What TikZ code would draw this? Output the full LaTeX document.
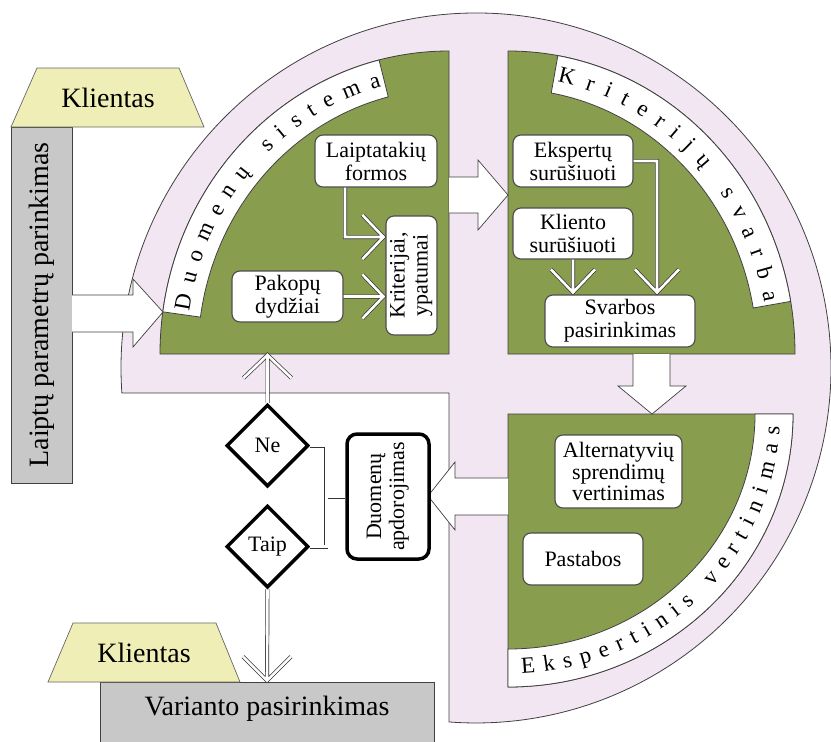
\documentclass[tikz,border=0pt]{standalone}
\usepackage{fontspec}
\setmainfont{Liberation Serif}
\usepackage{graphicx}
\usetikzlibrary{shapes.geometric,decorations.text,calc}
\definecolor{pinkbg}{RGB}{241,230,241}
\definecolor{olivegr}{RGB}{137,157,79}
\definecolor{klient}{RGB}{238,238,182}
\definecolor{grayb}{RGB}{200,200,200}
\newcommand\bigfont{\fontsize{28}{30}\selectfont}
\newcommand\boxfont{\fontsize{22}{23}\selectfont}
\newcommand\bandfont{\fontsize{23}{23}\selectfont}
\begin{document}
\begin{tikzpicture}[x=1pt,y=-1pt,
  outl/.style={draw=black!75, line width=0.8pt},
  box/.style={draw=black!70, line width=1.1pt, fill=white, rounded corners=8pt, align=center, inner sep=0pt, font=\boxfont},
  thickbox/.style={draw=black, line width=3.5pt, fill=white, rounded corners=10pt, inner sep=0pt, font=\boxfont},
  dia/.style={diamond, draw=black, line width=3.5pt, fill=white, inner sep=0pt, minimum width=82pt, minimum height=82pt, font=\boxfont},
  dbl/.style={draw=black!80, double=white, double distance=2.6pt, line width=0.7pt, line join=miter},
  blockarrow/.style={fill=white, draw=black!75, line width=0.7pt, line join=miter},
  bandtext/.style={decorate, decoration={text along path, text align={fit to path, left indent=4pt, right indent=4pt}}},
]
\useasboundingbox (0,0) rectangle (831,742);

% pink disc with the lower-left quadrant removed
\path[fill=pinkbg, outl] (449,393) -- (121.9,393) arc[start angle=175.96, end angle=454.36, radius=355] -- cycle;

% green quadrants
\path[fill=olivegr, outl] (449,354) -- (160,354) arc[start angle=180, end angle=270, x radius=289, y radius=303] -- cycle;
\path[fill=olivegr, outl] (508,354) -- (508,51) arc[start angle=270, end angle=360, x radius=287, y radius=303] -- cycle;
\path[fill=olivegr, outl] (508,414) -- (793,414) arc[start angle=0, end angle=90, x radius=285, y radius=273] -- cycle;

% white bands
\path[fill=white, outl] ([shift={(188:289 and 303)}]449,354) arc[start angle=188, end angle=256, x radius=289, y radius=303]
  -- ([shift={(256:251 and 265)}]449,354) arc[start angle=256, end angle=188, x radius=251, y radius=265] -- cycle;
\path[fill=white, outl] ([shift={(280:287 and 303)}]508,354) arc[start angle=280, end angle=350, x radius=287, y radius=303]
  -- ([shift={(350:249 and 265)}]508,354) arc[start angle=350, end angle=280, x radius=249, y radius=265] -- cycle;
\path[fill=white, outl] ([shift={(0:285 and 273)}]508,414) arc[start angle=0, end angle=90, x radius=285, y radius=273]
  -- ([shift={(90:247 and 235)}]508,414) arc[start angle=90, end angle=0, x radius=247, y radius=235] -- cycle;

% band texts
\path[bandtext, decoration={text={|\bandfont|Duomenų sistema}}]
  ([shift={(188:263 and 277)}]449,354) arc[start angle=188, end angle=256, x radius=263, y radius=277];
\path[bandtext, decoration={text={|\bandfont|Kriterijų svarba}}]
  ([shift={(280:261 and 277)}]508,354) arc[start angle=280, end angle=350, x radius=261, y radius=277];
\path[bandtext, decoration={text={|\bandfont|Ekspertinis vertinimas}}]
  ([shift={(88:272 and 260)}]508,414) arc[start angle=88, end angle=2, x radius=272, y radius=260];

% left column and client shapes
\node[draw=black!75, line width=0.8pt, fill=grayb, minimum width=61pt, minimum height=356pt, inner sep=0pt] (lp) at (41.5,305)
  {\rotatebox{90}{\bigfont Laiptų parametrų parinkimas}};
\path[fill=klient, draw=black!60, line width=0.7pt] (11,127) -- (204,127) -- (179,68) -- (37,68) -- cycle;
\node[font=\bigfont] (kl1) at (108,98) {Klientas};

\node[draw=black!75, line width=0.8pt, fill=grayb, minimum width=334pt, minimum height=70pt, inner sep=0pt] (var) at (267,717) {};
\node[font=\bigfont] (vart) at (267,709) {Varianto pasirinkimas};
\path[fill=klient, draw=black!60, line width=0.7pt] (48,682) -- (240,682) -- (216,623) -- (73,623) -- cycle;
\node[font=\bigfont] (kl2) at (144,653) {Klientas};

% block arrows
\path[blockarrow] (72,295) -- (133,295) -- (133,279) -- (163,312) -- (133,347) -- (133,332) -- (72,332);
\path[blockarrow] (449,177) -- (478,177) -- (478,160) -- (508,195) -- (478,230) -- (478,213) -- (449,213);
\path[blockarrow] (633,354) -- (633,386) -- (618,386) -- (652,414) -- (686,386) -- (670,386) -- (670,354);
\path[blockarrow] (508,478) -- (455,478) -- (455,462) -- (428,496) -- (455,530) -- (455,515) -- (508,515);

% boxes
\node[box, minimum width=122pt, minimum height=52pt] (lf) at (376,161) {Laiptatakių\\formos};
\node[box, minimum width=111pt, minimum height=51pt] (pk) at (287.5,296.5) {Pakopų\\dydžiai};
\node[box, minimum width=51pt, minimum height=119pt] (kr) at (411.5,275.5)
  {\rotatebox{90}{\begin{tabular}{@{}c@{}}Kriterijai,\\ypatumai\end{tabular}}};
\node[box, minimum width=120pt, minimum height=52pt] (ek) at (573,161) {Ekspertų\\surūšiuoti};
\node[box, minimum width=120pt, minimum height=51pt] (kli) at (573,233.5) {Kliento\\surūšiuoti};
\node[box, minimum width=150pt, minimum height=52pt] (sv) at (620,321) {Svarbos\\pasirinkimas};
\node[box, minimum width=127pt, minimum height=73pt, font=\fontsize{22}{21.5}\selectfont] (alt) at (618.5,471.5) {Alternatyvių\\sprendimų\\vertinimas};
\node[box, minimum width=120pt, minimum height=52pt] (pa) at (583,559) {Pastabos};
\node[thickbox, minimum width=82pt, minimum height=125pt] (da) at (388,496.5)
  {\rotatebox{90}{\begin{tabular}{@{}c@{}}Duomenų\\apdorojimas\end{tabular}}};
\node[dia] (ne) at (267.5,445.5) {Ne};
\node[dia] (taip) at (267.5,546.5) {Taip};
\coordinate (tlb) at (267.5,355);
\coordinate (bj) at ($(da.west)+(-19,0)$);

% connectors
\draw[dbl] ([xshift=-31pt]lf.south) |- ($(kr.west)+(-2,-38.5)$) coordinate (t1) ++(-21,-22) -- (t1) -- ++(-21,22);
\draw[dbl] (pk.east) -- ($(pk.east -| kr.west)+(-2,0)$) coordinate (t2) ++(-21,-22) -- (t2) -- ++(-21,22);
\draw[dbl] (ek.east) -| ($(sv.north)+(37,-2)$) coordinate (t3) ++(-22,-23) -- (t3) -- ++(22,-23);
\draw[dbl] (kli.south) -- ($(kli.south |- sv.north)+(0,-2)$) coordinate (t4) ++(-22,-23) -- (t4) -- ++(22,-23);
\draw[dbl] (ne.north) -- (tlb) ++(-24,23) -- (tlb) -- ++(24,23);
\draw[dbl] (taip.south) -- ($(var.north)+(0,-1)$) coordinate (t6) ++(-24,-24) -- (t6) -- ++(24,-24);
\draw[dbl] (ne.east) -- (ne.east -| bj) -- (taip.east -| bj) -- (taip.east) (da.west) -- (bj);
\end{tikzpicture}
\end{document}
